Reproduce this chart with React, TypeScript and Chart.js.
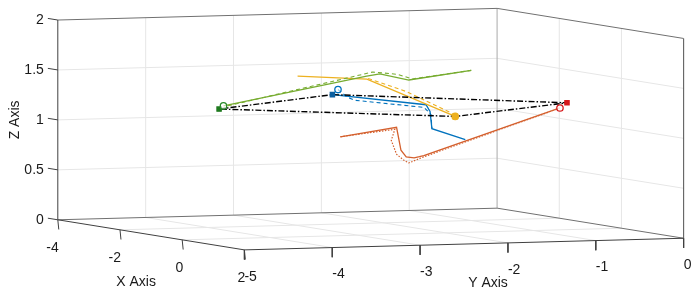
import React, { useEffect, useRef } from "react";
import { Chart, registerables } from "chart.js";
Chart.register(...registerables);

// Axis limits and ticks
const xLim = [-4, 2];
const yLim = [-5, 0];
const zLim = [0, 2];
const xTicks = [-4, -2, 0, 2];
const yTicks = [-5, -4, -3, -2, -1, 0];
const zTicks = [0, 0.5, 1, 1.5, 2];
const xTickLabels = ["-4", "-2", "0", "2"];
const yTickLabels = ["-5", "-4", "-3", "-2", "-1", "0"];
const zTickLabels = ["0", "0.5", "1", "1.5", "2"];

// Formation (target) positions [x, y, z]
const formation = [
  [0, -4.58, 1.3],
  [-1.95, -2.6, 1.3],
  [0, -0.62, 1.27],
  [2, -2.6, 1.28],
  [0, -4.58, 1.3],
];
// Current positions [x, y, z]
const greenNow = [0, -4.53, 1.33];
const blueNow = [-1.77, -2.6, 1.36];
const redNow = [0, -0.7, 1.22];
const yellowNow = [2, -2.6, 1.28];

// Trajectories [x, y, z]
const greenActual = [
  [0, -4.53, 1.33],
  [0, -2.9, 1.59],
  [0, -2.75, 1.61],
  [0, -2.42, 1.54],
  [0, -1.71, 1.62],
];
const greenRef = [
  [0, -4.48, 1.33],
  [0, -2.83, 1.63],
  [0, -2.55, 1.6],
  [0, -2.38, 1.55],
  [0, -1.71, 1.62],
];
const yellowActual = [
  [-3.07, -2.6, 1.43],
  [-0.84, -2.6, 1.51],
  [2, -2.6, 1.28],
];
const yellowRef = [
  [-0.8, -2.6, 1.52],
  [0.43, -2.6, 1.45],
  [1.85, -2.6, 1.31],
  [2, -2.6, 1.28],
];
const blueActual = [
  [-1.95, -2.6, 1.3],
  [1.06, -2.6, 1.35],
  [1.19, -2.6, 1.29],
  [1.25, -2.6, 1.12],
  [1.9, -2.45, 1.04],
];
const blueRef = [
  [-1.77, -2.6, 1.36],
  [-1.48, -2.6, 1.3],
  [-1.23, -2.6, 1.28],
  [1.0, -2.6, 1.32],
  [1.22, -2.6, 1.26],
  [1.25, -2.6, 1.12],
];
const redActual = [
  [0, -3.2, 0.99],
  [0, -2.56, 1.07],
  [0, -2.51, 0.84],
  [0, -2.45, 0.77],
  [0, -2.36, 0.76],
  [0, -2.3, 0.77],
  [0, -2.25, 0.78],
  [0, -0.7, 1.22],
];
const redRef = [
  [0, -3.2, 0.99],
  [0, -2.58, 1.05],
  [0, -2.62, 0.94],
  [0, -2.56, 0.8],
  [0, -2.48, 0.74],
  [0, -2.42, 0.71],
  [0, -2.33, 0.74],
  [0, -2.24, 0.77],
  [0, -0.7, 1.22],
];

const C_BLUE = "#0072BD";
const C_ORANGE = "#D4602E";
const C_YELLOW = "#EDB120";
const C_GREEN = "#77AC30";

// Orthographic view projection (3D -> canvas plane)
const proj = (p: number[]) => {
  const a = p[0] - xLim[0];
  const b = p[1] - yLim[0];
  const c = p[2] - zLim[0];
  return { x: 54 + 31.5 * a + 89 * b, y: 222 + 5.17 * a - 2.4 * b - 103 * c };
};

const lineDs = (pts: number[][], color: string, width: number, dash: number[], order: number) => ({
  data: pts.map(proj),
  showLine: true,
  borderColor: color,
  borderWidth: width,
  borderDash: dash,
  pointRadius: 0,
  pointHoverRadius: 0,
  fill: false,
  tension: 0,
  order,
});

const segDs = (a: { x: number; y: number }, b: { x: number; y: number }, color: string, width: number, order: number) => ({
  data: [a, b],
  showLine: true,
  borderColor: color,
  borderWidth: width,
  pointRadius: 0,
  pointHoverRadius: 0,
  fill: false,
  tension: 0,
  order,
});

const markerDs = (p: number[], style: string, fill: string, stroke: string, r: number, order: number) => ({
  data: [proj(p)],
  showLine: false,
  pointStyle: style,
  pointRadius: r,
  pointHoverRadius: r,
  pointBackgroundColor: fill,
  pointBorderColor: stroke,
  pointBorderWidth: 1.3,
  order,
});

function buildDatasets() {
  const ds: any[] = [];
  const [x0, x1] = xLim;
  const [y0, y1] = yLim;
  const [z0, z1] = zLim;
  const grid = "#e6e6e6";
  const inner = (t: number[]) => t.slice(1, -1);
  // grid on x = xmin wall
  inner(yTicks).forEach((y) => ds.push(segDs(proj([x0, y, z0]), proj([x0, y, z1]), grid, 1, 20)));
  inner(zTicks).forEach((z) => ds.push(segDs(proj([x0, y0, z]), proj([x0, y1, z]), grid, 1, 20)));
  // grid on y = ymax wall
  inner(xTicks).forEach((x) => ds.push(segDs(proj([x, y1, z0]), proj([x, y1, z1]), grid, 1, 20)));
  inner(zTicks).forEach((z) => ds.push(segDs(proj([x0, y1, z]), proj([x1, y1, z]), grid, 1, 20)));
  // grid on floor
  inner(xTicks).forEach((x) => ds.push(segDs(proj([x, y0, z0]), proj([x, y1, z0]), grid, 1, 20)));
  inner(yTicks).forEach((y) => ds.push(segDs(proj([x0, y, z0]), proj([x1, y, z0]), grid, 1, 20)));
  // box back edges
  const edge = "#707070";
  ds.push(segDs(proj([x0, y0, z0]), proj([x0, y1, z0]), edge, 1, 15));
  ds.push(segDs(proj([x0, y1, z0]), proj([x1, y1, z0]), edge, 1, 15));
  ds.push(segDs(proj([x0, y0, z1]), proj([x0, y1, z1]), edge, 1, 15));
  ds.push(segDs(proj([x0, y1, z1]), proj([x1, y1, z1]), edge, 1, 15));
  ds.push(segDs(proj([x0, y1, z0]), proj([x0, y1, z1]), "#aaaaaa", 1, 15));
  ds.push(segDs(proj([x1, y1, z0]), proj([x1, y1, z1]), "#505050", 1, 15));
  // axes
  const ax = "#404040";
  ds.push(segDs(proj([x0, y0, z0]), proj([x0, y0, z1]), ax, 1, 14));
  ds.push(segDs(proj([x0, y0, z0]), proj([x1, y0, z0]), ax, 1, 14));
  ds.push(segDs(proj([x1, y0, z0]), proj([x1, y1, z0]), ax, 1, 14));
  // tick marks
  xTicks.forEach((x) => {
    const a = proj([x, y0, z0]);
    ds.push(segDs(a, { x: a.x + 1, y: a.y + 10 }, ax, 1, 14));
  });
  yTicks.forEach((y) => {
    const a = proj([x1, y, z0]);
    ds.push(segDs(a, { x: a.x, y: a.y + 10 }, ax, 1, 14));
  });
  zTicks.forEach((z) => ds.push(segDs(proj([x0, y0, z]), proj([x0 - 0.32, y0, z]), ax, 1, 14)));

  // trajectories
  ds.push(lineDs(greenActual, C_GREEN, 1.3, [], 5));
  ds.push(lineDs(greenRef, C_GREEN, 1.1, [4, 3], 5));
  ds.push(lineDs(yellowActual, C_YELLOW, 1.3, [], 5));
  ds.push(lineDs(yellowRef, C_YELLOW, 1.1, [4, 3], 5));
  ds.push(lineDs(blueActual, C_BLUE, 1.3, [], 5));
  ds.push(lineDs(blueRef, C_BLUE, 1.1, [4, 3], 5));
  ds.push(lineDs(redActual, C_ORANGE, 1.3, [], 5));
  ds.push(lineDs(redRef, C_ORANGE, 1.2, [1.5, 1.5], 5));
  // formation
  ds.push(lineDs(formation, "#000000", 1.4, [6, 2, 1.5, 2], 3));
  // markers
  ds.push(markerDs(formation[0], "rect", "#1f7a1f", "#1f7a1f", 3, 1));
  ds.push(markerDs(formation[1], "rect", "#0a5fa0", "#0a5fa0", 3, 1));
  ds.push(markerDs(formation[2], "rect", "#d7191c", "#d7191c", 3, 1));
  ds.push(markerDs(formation[3], "rect", C_YELLOW, C_YELLOW, 3, 1));
  ds.push(markerDs(greenNow, "circle", "rgba(255,255,255,0.6)", "#2a8a2a", 3.2, 0));
  ds.push(markerDs(blueNow, "circle", "rgba(255,255,255,0.6)", C_BLUE, 3.2, 0));
  ds.push(markerDs(redNow, "circle", "rgba(255,255,255,0.8)", "#d7191c", 3.2, 0));
  ds.push(markerDs(yellowNow, "circle", C_YELLOW, C_YELLOW, 3.2, 0));
  return ds;
}

const textPlugin = {
  id: "axisText",
  afterDraw(chart: any) {
    const ctx = chart.ctx;
    const sx = chart.scales.x;
    const sy = chart.scales.y;
    const px = (p: number[]) => {
      const q = proj(p);
      return [sx.getPixelForValue(q.x), sy.getPixelForValue(q.y)];
    };
    ctx.save();
    ctx.fillStyle = "#1a1a1a";
    ctx.font = '14px "Liberation Sans", Arial, sans-serif';
    // Z tick labels
    ctx.textAlign = "right";
    ctx.textBaseline = "middle";
    zTicks.forEach((z, i) => {
      const [u, v] = px([xLim[0], yLim[0], z]);
      ctx.fillText(zTickLabels[i], u - 14, v);
    });
    // X tick labels
    ctx.textAlign = "right";
    xTicks.forEach((x, i) => {
      const [u, v] = px([x, yLim[0], zLim[0]]);
      ctx.fillText(xTickLabels[i], u + 1, v + 28);
    });
    // Y tick labels
    ctx.textAlign = "left";
    yTicks.forEach((y, i) => {
      const [u, v] = px([xLim[1], y, zLim[0]]);
      ctx.fillText(yTickLabels[i], u, v + 27);
    });
    // Axis titles
    ctx.textAlign = "center";
    const xm = px([(xLim[0] + xLim[1]) / 2, yLim[0], zLim[0]]);
    ctx.fillText("X Axis", xm[0] - 15, xm[1] + 47);
    const ym = px([xLim[1], (yLim[0] + yLim[1]) / 2, zLim[0]]);
    ctx.fillText("Y Axis", ym[0] + 24, ym[1] + 39);
    const zm = px([xLim[0], yLim[0], (zLim[0] + zLim[1]) / 2]);
    ctx.translate(zm[0] - 43, zm[1]);
    ctx.rotate(-Math.PI / 2);
    ctx.fillText("Z Axis", 0, 0);
    ctx.restore();
  },
};

export default function App() {
  const ref = useRef<HTMLCanvasElement | null>(null);
  useEffect(() => {
    if (!ref.current) return;
    const chart = new Chart(ref.current, {
      type: "scatter",
      data: { datasets: buildDatasets() },
      options: {
        animation: false,
        responsive: false,
        devicePixelRatio: 1,
        events: [],
        layout: { padding: 0 },
        plugins: { legend: { display: false }, tooltip: { enabled: false } },
        scales: {
          x: { type: "linear", min: 0, max: 700, display: false },
          y: { type: "linear", min: 0, max: 298, reverse: true, display: false },
        },
      },
      plugins: [textPlugin],
    } as any);
    return () => chart.destroy();
  }, []);
  return (
    <div style={{ position: "fixed", left: 0, top: 0, width: 700, height: 298, background: "#fff" }}>
      <canvas ref={ref} width={700} height={298} style={{ display: "block" }} />
    </div>
  );
}
